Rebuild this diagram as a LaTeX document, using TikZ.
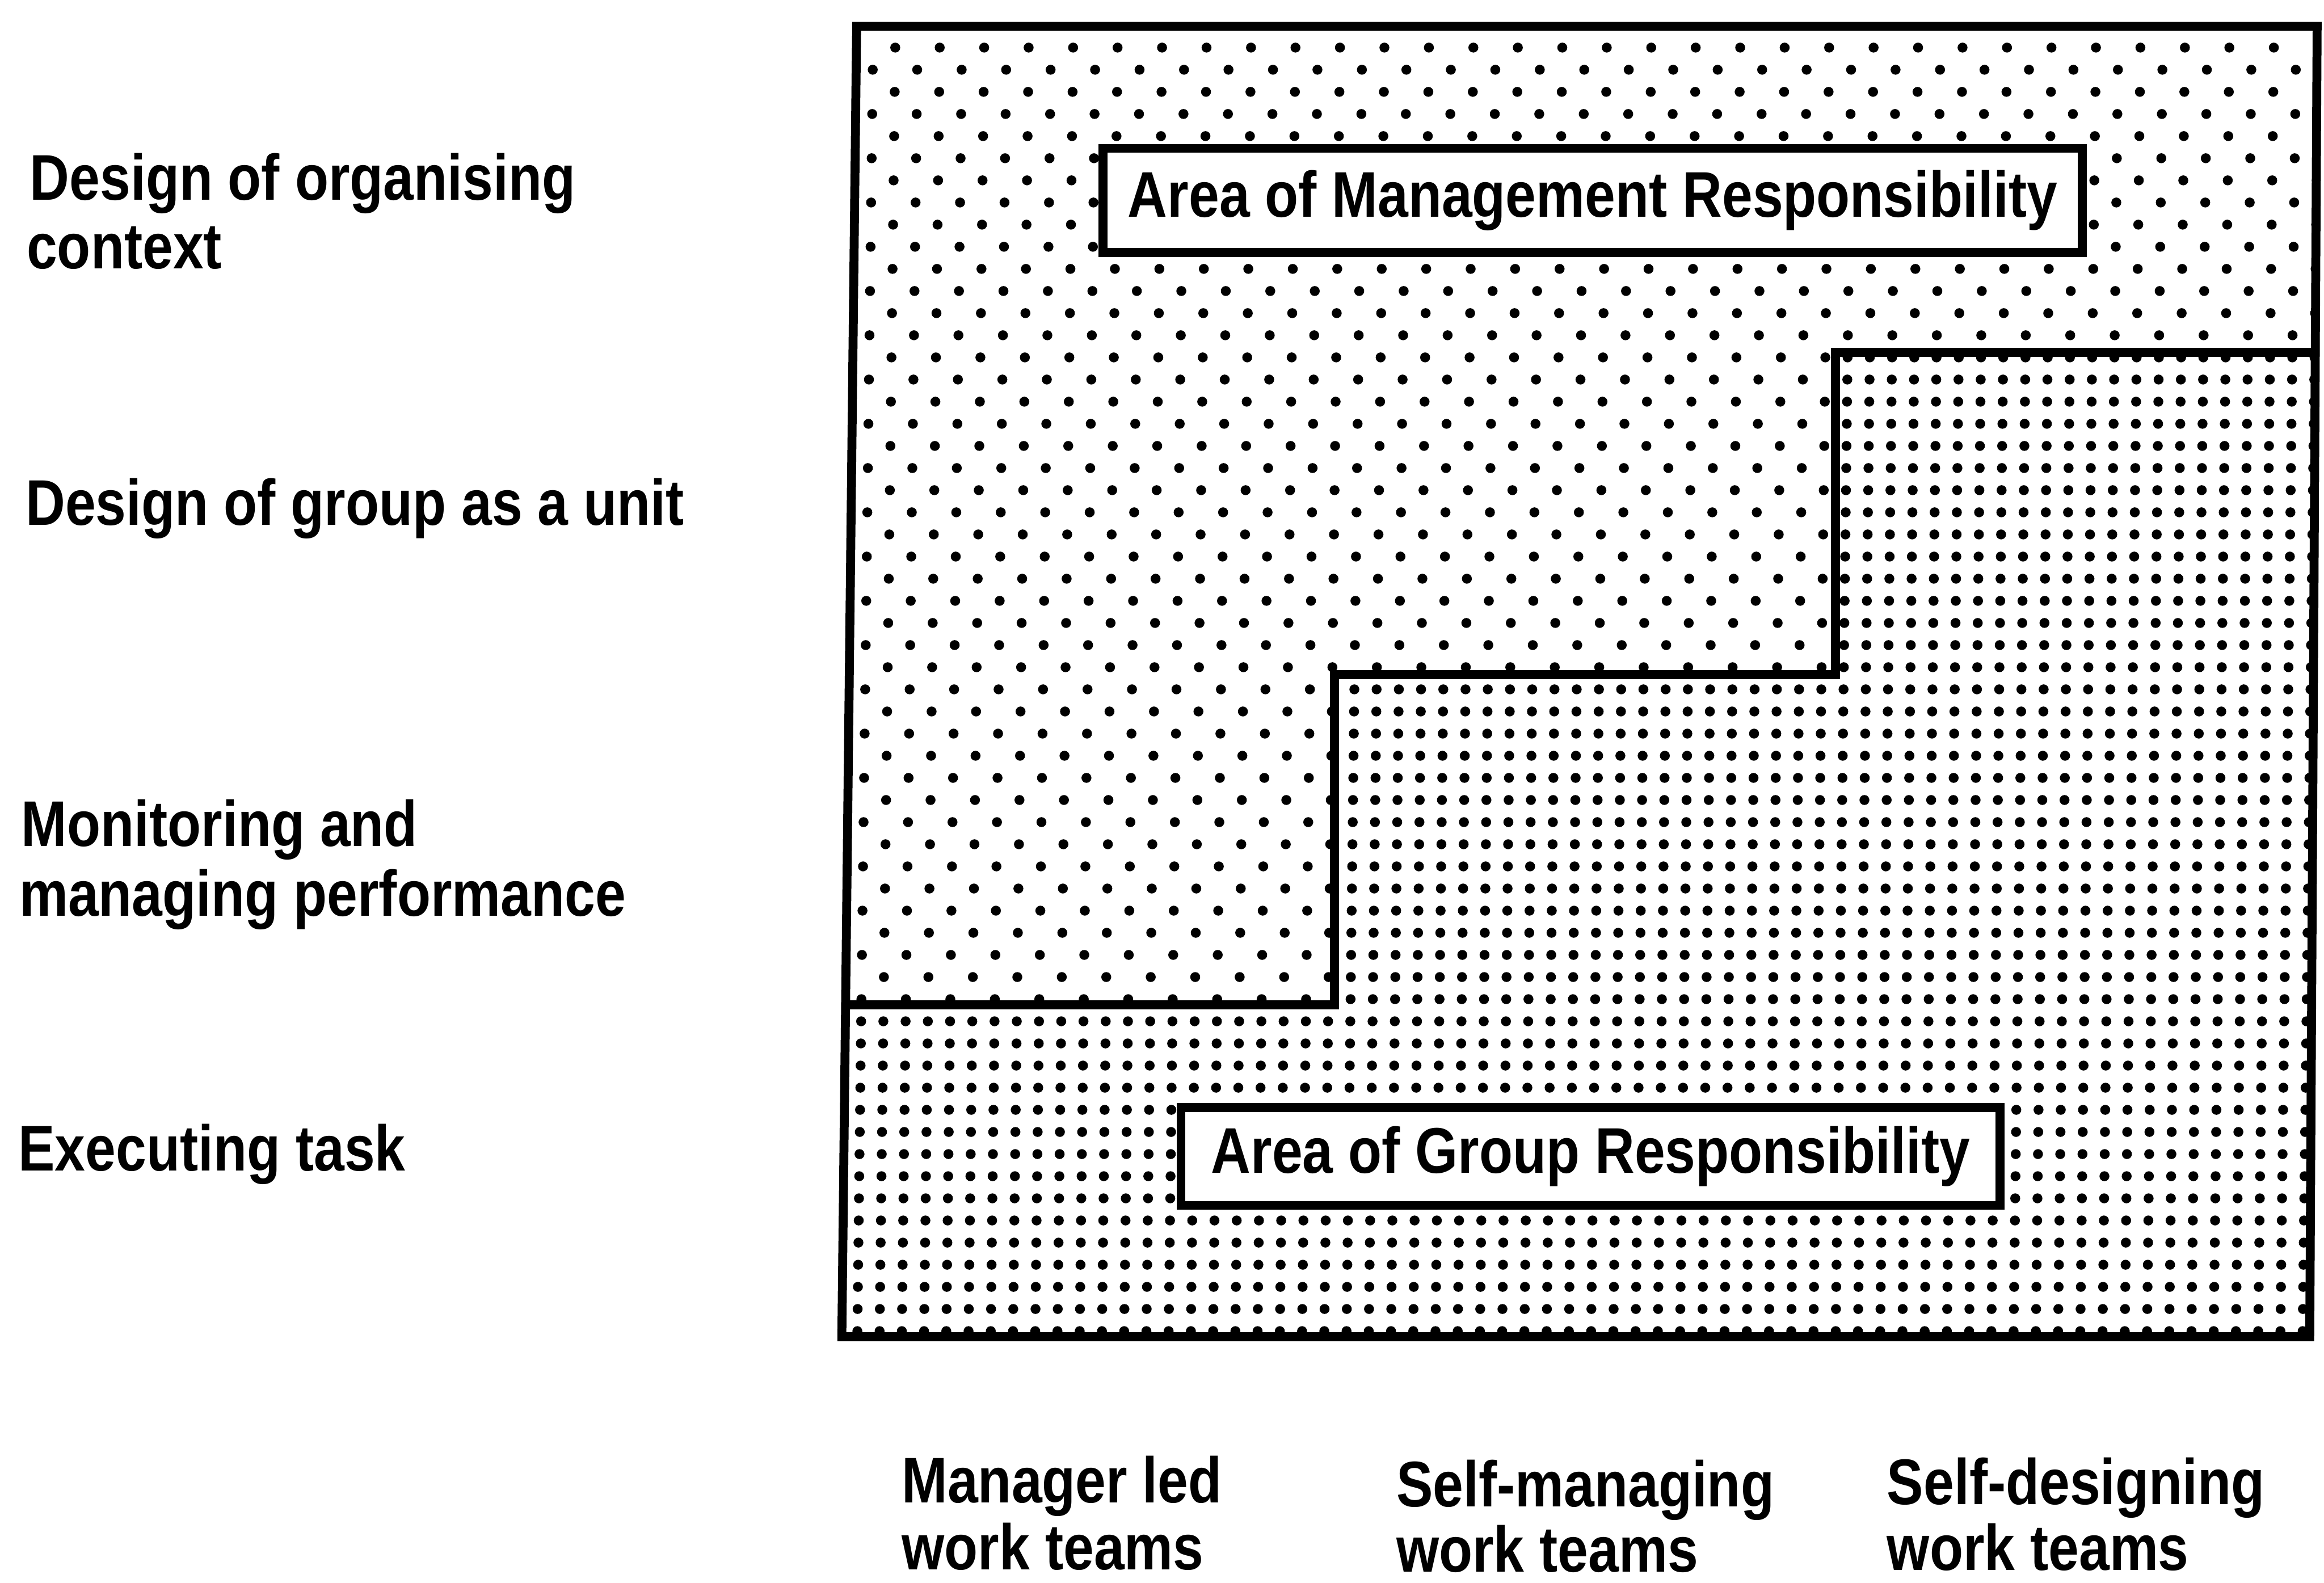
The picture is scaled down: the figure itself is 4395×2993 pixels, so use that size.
\documentclass[tikz,border=0pt]{standalone}
\usepackage{fontspec}
\newfontfamily\dgmfamily[FakeStretch=0.85]{Liberation Sans}
\newcommand{\dgmfont}{\dgmfamily\bfseries\fontsize{34.7pt}{38pt}\selectfont}
\begin{document}
\begin{tikzpicture}[x=0.01cm,y=-0.01cm,
  frame/.style={line width=4.8pt, line join=miter},
  areabox/.style={draw, line width=4.8pt, fill=white, inner sep=0pt, font=\dgmfont},
  lab/.style={anchor=base west, inner sep=0pt, font=\dgmfont}]
\useasboundingbox[fill=white] (0,0) rectangle (4395,2993);
% corners of the frame and the step line
\coordinate (tl) at (1620,50);
\coordinate (tr) at (4382,50);
\coordinate (br) at (4368,2528);
\coordinate (bl) at (1592,2528);
\coordinate (rs) at (4378,666);
\coordinate (s0) at (1599,1900);
\coordinate (s1) at (2524,1900);
\coordinate (s2) at (2524,1276);
\coordinate (s3) at (3471,1276);
\coordinate (s4) at (3471,666);
% management area: sparse staggered dots
\begin{scope}
  \clip (tl) -- (tr) -- (rs) -- (s4) -- (s3) -- (s2) -- (s1) -- (s0) -- cycle;
  \foreach \k in {0,...,46} {
    \fill[black] \foreach \m in {-1,...,34}
     { ({1693+84.1*\m-42.05*mod(\k,2)-0.51*\k},{90+41.85*\k}) circle[radius=0.094cm] };
  }
\end{scope}
% group area: dense square grid of dots
\begin{scope}
  \clip (s0) -- (s1) -- (s2) -- (s3) -- (s4) -- (rs) -- (br) -- (bl) -- cycle;
  \foreach \k in {13,...,59} {
    \fill[black] \foreach \j in {-3,...,68}
     { ({1693+42.05*\j-0.51*\k},{90+41.85*\k}) circle[radius=0.094cm] };
  }
\end{scope}
% outlines
\draw[frame] (tl) -- (tr) -- (br) -- (bl) -- cycle;
\draw[frame] (s0) -- (s1) -- (s2) -- (s3) -- (s4) -- (rs);
% area labels
\node[areabox, minimum width=18.51cm, minimum height=1.97cm] (mgmt) at (3012,379) {Area of Management Responsibility};
\node[areabox, minimum width=15.48cm, minimum height=1.85cm] (grp) at (3008,2187) {Area of Group Responsibility};
% row labels
\node[lab] (l1a) at (56,378) {Design of organising};
\node[lab] (l1b) at (50,508) {context};
\node[lab] (l2) at (48,993) {Design of group as a unit};
\node[lab] (l3a) at (40,1600) {Monitoring and};
\node[lab] (l3b) at (36,1732) {managing performance};
\node[lab] (l4) at (34,2214) {Executing task};
% column labels
\node[lab] (c1a) at (1705,2842) {Manager led};
\node[lab] (c1b) at (1705,2968) {work teams};
\node[lab] (c2a) at (2640,2849) {Self-managing};
\node[lab] (c2b) at (2640,2973) {work teams};
\node[lab] (c3a) at (3568,2845) {Self-designing};
\node[lab] (c3b) at (3568,2970) {work teams};
\end{tikzpicture}
\end{document}
